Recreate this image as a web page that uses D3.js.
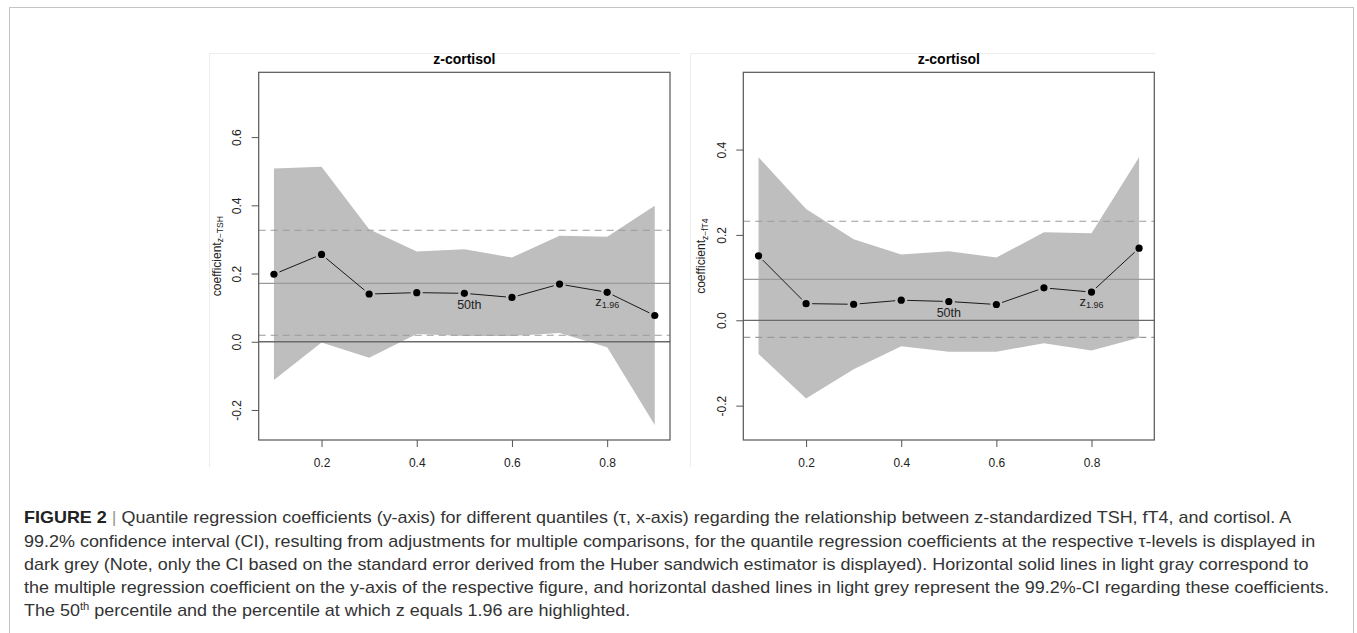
<!DOCTYPE html>
<html>
<head>
<meta charset="utf-8">
<script src="https://cdn.jsdelivr.net/npm/d3@7"></script>
<style>
  body { margin: 0; background: #fff; }
  svg { display: block; }
</style>
</head>
<body>
<script>
// data
const taus = [0.1, 0.2, 0.3, 0.4, 0.5, 0.6, 0.7, 0.8, 0.9];

const tshCoef  = [0.198, 0.256, 0.140, 0.144, 0.142, 0.130, 0.169, 0.145, 0.077];
const tshUpper = [0.508, 0.513, 0.330, 0.265, 0.271, 0.247, 0.311, 0.308, 0.399];
const tshLower = [-0.112, -0.002, -0.047, 0.023, 0.017, 0.017, 0.026, -0.016, -0.244];
const tshOls   = 0.171;
const tshOlsCI = [0.019, 0.327];

const ft4Coef  = [0.151, 0.039, 0.0375, 0.047, 0.044, 0.037, 0.076, 0.066, 0.169];
const ft4Upper = [0.382, 0.261, 0.190, 0.154, 0.162, 0.147, 0.206, 0.204, 0.382];
const ft4Lower = [-0.079, -0.183, -0.115, -0.061, -0.074, -0.0735, -0.054, -0.071, -0.041];
const ft4Ols   = 0.096;
const ft4OlsCI = [-0.040, 0.232];

const xTicks    = [0.2, 0.4, 0.6, 0.8];
const tshYTicks = [-0.2, 0.0, 0.2, 0.4, 0.6];
const ft4YTicks = [-0.2, 0.0, 0.2, 0.4];

const medianTau = 0.5;
const zTau = 0.8;

const captionLines = [
  "Quantile regression coefficients (y-axis) for different quantiles (\u03c4, x-axis) regarding the relationship between z-standardized TSH, fT4, and cortisol. A",
  "99.2% confidence interval (CI), resulting from adjustments for multiple comparisons, for the quantile regression coefficients at the respective \u03c4-levels is displayed in",
  "dark grey (Note, only the CI based on the standard error derived from the Huber sandwich estimator is displayed). Horizontal solid lines in light gray correspond to",
  "the multiple regression coefficient on the y-axis of the respective figure, and horizontal dashed lines in light grey represent the 99.2%-CI regarding these coefficients."
];

// layout
const W = 1357, H = 633;
const plotTop = 72.3, plotBottom = 440;

var svg = d3.select('body').append('svg')
    .attr('width', W)
    .attr('height', H)
    .style('font-family', 'Liberation Sans, Arial, sans-serif');

// outer figure frame
svg.append('rect')
    .attr('x', 9.5).attr('y', 7.5)
    .attr('width', 1344).attr('height', 700)
    .attr('fill', 'none')
    .attr('stroke', '#c4c4c4');

// faint frames of the two embedded plot images
[[209.5, 680], [690.5, 1155]].forEach(fr => {
  svg.append('path')
     .attr('d', `M${fr[0]},467 V53.5 H${fr[1]}`)
     .attr('fill', 'none')
     .attr('stroke', '#ededed');
});

const panels = [
  {left: 258.7, right: 670, yDom: [-0.288, 0.79], coef: tshCoef, upper: tshUpper, lower: tshLower,
   ols: tshOls, olsCI: tshOlsCI, yTicks: tshYTicks, sub: 'z\u2212TSH', medDx: 5},
  {left: 743.3, right: 1154.3, yDom: [-0.2805, 0.581], coef: ft4Coef, upper: ft4Upper, lower: ft4Lower,
   ols: ft4Ols, olsCI: ft4OlsCI, yTicks: ft4YTicks, sub: 'z\u2212fT4', medDx: 0}
];

panels.forEach(p => {
  const x = d3.scaleLinear().domain([0.068, 0.932]).range([p.left, p.right]);
  const y = d3.scaleLinear().domain(p.yDom).range([plotBottom, plotTop]);
  const g = svg.append('g');

  const rows = taus.map((t, i) => ({t: t, c: p.coef[i], hi: p.upper[i], lo: p.lower[i]}));

  // confidence band
  g.append('path')
   .datum(rows)
   .attr('d', d3.area().x(d => x(d.t)).y0(d => y(d.lo)).y1(d => y(d.hi)))
   .attr('fill', '#bebebe');

  // horizontal reference lines
  const hline = (v, col, dash, w) => g.append('line')
      .attr('x1', p.left).attr('x2', p.right)
      .attr('y1', y(v)).attr('y2', y(v))
      .attr('stroke', col)
      .attr('stroke-width', w)
      .attr('stroke-dasharray', dash);
  hline(0, '#6a6a6a', null, 1.3);
  hline(p.ols, '#9a9a9a', null, 1.2);
  p.olsCI.forEach(v => hline(v, '#9a9a9a', '7,5', 1.1));

  // connecting segments with gaps round the points (R type = "b")
  const gap = 6;
  for (let i = 0; i < rows.length - 1; i++) {
    const x1 = x(rows[i].t), y1 = y(rows[i].c), x2 = x(rows[i + 1].t), y2 = y(rows[i + 1].c);
    const len = Math.hypot(x2 - x1, y2 - y1);
    const ux = (x2 - x1) / len, uy = (y2 - y1) / len;
    g.append('line')
     .attr('x1', x1 + ux * gap).attr('y1', y1 + uy * gap)
     .attr('x2', x2 - ux * gap).attr('y2', y2 - uy * gap)
     .attr('stroke', '#1a1a1a')
     .attr('stroke-width', 1);
  }

  g.selectAll('.pt')
   .data(rows)
   .enter()
   .append('circle')
   .attr('class', 'pt')
   .attr('cx', d => x(d.t))
   .attr('cy', d => y(d.c))
   .attr('r', 3.6)
   .attr('fill', '#000');

  // highlighted quantiles
  const med = rows[taus.indexOf(medianTau)];
  g.append('text')
   .attr('x', x(med.t) + p.medDx)
   .attr('y', y(med.c) + 16)
   .attr('text-anchor', 'middle')
   .style('font-size', '12.5px')
   .style('fill', '#222')
   .text('50th');

  const zr = rows[taus.indexOf(zTau)];
  const zt = g.append('text')
   .attr('x', x(zr.t))
   .attr('y', y(zr.c) + 13.5)
   .attr('text-anchor', 'middle')
   .style('fill', '#222');
  zt.append('tspan').style('font-size', '13px').text('z');
  zt.append('tspan').style('font-size', '9px').attr('dy', 2).text('1.96');

  // box
  g.append('rect')
   .attr('x', p.left).attr('y', plotTop)
   .attr('width', p.right - p.left).attr('height', plotBottom - plotTop)
   .attr('fill', 'none')
   .attr('stroke', '#555')
   .attr('stroke-width', 1.2);

  // axes
  const xAxis = g.append('g')
   .attr('transform', `translate(0,${plotBottom})`)
   .call(d3.axisBottom(x).tickValues(xTicks).tickSize(7).tickFormat(d => d.toFixed(1)));
  xAxis.select('.domain').remove();
  xAxis.selectAll('line').attr('stroke', '#555');
  xAxis.selectAll('text')
   .attr('y', 27).attr('dy', null)
   .style('font-size', '12px')
   .style('font-family', 'Liberation Sans, Arial, sans-serif')
   .style('fill', '#222');

  const yAxis = g.append('g')
   .attr('transform', `translate(${p.left},0)`)
   .call(d3.axisLeft(y).tickValues(p.yTicks).tickSize(7).tickFormat(d => d.toFixed(1)));
  yAxis.select('.domain').remove();
  yAxis.selectAll('line').attr('stroke', '#555');
  yAxis.selectAll('text')
   .attr('x', null).attr('dy', '0.35em')
   .attr('transform', 'translate(-21.7,0) rotate(-90)')
   .attr('text-anchor', 'middle')
   .style('font-size', '12px')
   .style('font-family', 'Liberation Sans, Arial, sans-serif')
   .style('fill', '#222');

  // title
  g.append('text')
   .attr('x', (p.left + p.right) / 2)
   .attr('y', 64)
   .attr('text-anchor', 'middle')
   .style('font-size', '14px')
   .style('font-weight', 'bold')
   .text('z-cortisol');

  // y label with subscript
  const yl = g.append('text')
   .attr('transform', `translate(${p.left - 43.5},${(plotTop + plotBottom) / 2}) rotate(-90)`)
   .attr('text-anchor', 'middle')
   .attr('dy', '0.35em')
   .style('fill', '#222');
  yl.append('tspan').style('font-size', '12px').text('coefficient');
  yl.append('tspan').style('font-size', '8.5px').attr('dy', 2.5).text(p.sub);
});

// caption
const cap = svg.append('g')
    .style('font-size', '16px')
    .style('fill', '#333');
const lineY = [523.3, 546.6, 569.9, 593.2, 616.5];

const first = cap.append('text').attr('x', 0).attr('y', lineY[0]);
first.append('tspan').style('font-weight', 'bold').style('fill', '#222').text('FIGURE 2');
first.append('tspan').style('fill', '#999').text(' | ');
first.append('tspan').text(captionLines[0]);

captionLines.slice(1).forEach((t, i) => {
  cap.append('text').attr('x', 0).attr('y', lineY[i + 1]).text(t);
});

const last = cap.append('text').attr('x', 0).attr('y', lineY[4]);
last.append('tspan').text('The 50');
last.append('tspan').style('font-size', '10px').attr('dy', -6).text('th');
last.append('tspan').attr('dy', 6).text(' percentile and the percentile at which z equals 1.96 are highlighted.');

// squeeze caption horizontally to the condensed face of the original
const longest = cap.selectAll('text').nodes()[3].getComputedTextLength();
const sx = (1330 - 24) / longest;
cap.attr('transform', `translate(24,0) scale(${sx},1)`);
</script>
</body>
</html>
